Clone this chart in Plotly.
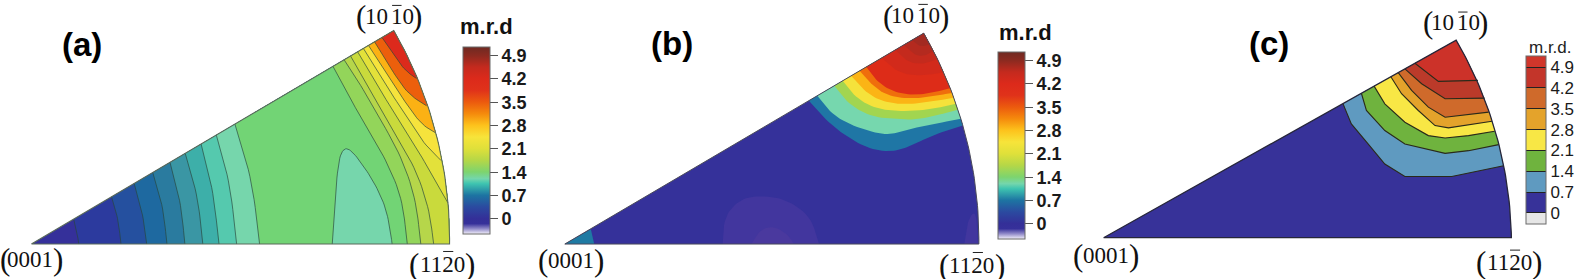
import math
import plotly.graph_objects as go

# ---------- shared labels ----------
TICK_VALUES = [0, 0.7, 1.4, 2.1, 2.8, 3.5, 4.2, 4.9]
TICK_TEXT = ["0", "0.7", "1.4", "2.1", "2.8", "3.5", "4.2", "4.9"]

# (0001), (1120), (1010) corners of each panel, in panel units
A_CORNERS = [(93, 722), (1330, 722), (1165, 90)]
B_CORNERS = [(103, 722), (1328, 722), (1165, 98)]
C_CORNERS = [(160, 710), (1378, 710), (1213, 120)]

# ---------- panel (a): contour lines, low to high ----------
A_BASE = "#35309a"
A_LEVELS = [
    ("#2c3a9e", [(218, 650), (228, 685), (233, 722)]),
    ("#25509f", [(330, 588), (350, 650), (358, 722)]),
    ("#1e69a0", [(397, 545), (422, 630), (434, 722)]),
    ("#2a7b9f", [(452, 513), (482, 610), (494, 722)]),
    ("#3a96a4", [(503, 483), (535, 600), (547, 722)]),
    ("#3dafa9", [(548, 457), (585, 580), (600, 722)]),
    ("#55c9ae", [(595, 430), (630, 560), (648, 722)]),
    ("#76d6ac", [(640, 405), (680, 540), (700, 722)]),
    ("#72d475", [(695, 370), (745, 530), (768, 722)]),
    ("#93d55a", [(985, 198), (1040, 300), (1100, 400), (1150, 490), (1190, 590), (1205, 722)]),
    ("#b6d64a", [(1018, 180), (1060, 240), (1130, 360), (1190, 470), (1230, 590), (1245, 722)]),
    ("#c9da3c", [(1037, 168), (1110, 290), (1170, 400), (1230, 500), (1270, 620), (1283, 722)]),
    ("#e3e13a", [(1058, 155), (1120, 260), (1190, 370), (1240, 450), (1290, 540), (1325, 600)]),
    ("#f6e33c", [(1075, 145), (1140, 250), (1200, 340), (1250, 420), (1305, 475)]),
    ("#fbb114", [(1090, 135), (1150, 225), (1210, 320), (1250, 370), (1287, 392)]),
    ("#ec5f0c", [(1108, 123), (1170, 225), (1210, 280), (1262, 313)]),
    ("#dc2a1c", [(1130, 110), (1170, 170), (1200, 210), (1232, 232)]),
]
A_LOBE_COLOR = "#76d6ac"
A_LOBE = [(983, 722), (990, 600), (1002, 470), (1018, 437), (1040, 445), (1075, 490),
          (1110, 545), (1140, 610), (1155, 680), (1160, 722)]

# ---------- panel (b) ----------
B_BASE = "#35319a"
B_LEVELS = [
    ("#1f76a5", [(825, 298), (870, 350), (930, 400), (1000, 440), (1075, 450), (1130, 430), (1190, 400), (1278, 372)]),
    ("#76d7ae", [(850, 285), (895, 340), (960, 375), (1050, 400), (1100, 390), (1150, 375), (1272, 352)]),
    ("#a2d550", [(900, 255), (945, 310), (1010, 345), (1080, 352), (1150, 355), (1265, 325)]),
    ("#f5e23b", [(925, 240), (965, 290), (1020, 320), (1090, 330), (1180, 325), (1258, 308)]),
    ("#fbb415", [(950, 225), (990, 270), (1040, 300), (1110, 310), (1180, 302), (1252, 290)]),
    ("#ef6e0c", [(975, 210), (1010, 250), (1060, 285), (1130, 292), (1190, 285), (1248, 275)]),
    ("#dd2c18", [(995, 197), (1025, 240), (1070, 270), (1130, 282), (1190, 275), (1245, 260)]),
    ("#d22a1b", [(1040, 170), (1090, 215), (1150, 225), (1222, 215)]),
    ("#c42a1d", [(1080, 145), (1120, 185), (1165, 190), (1205, 175)]),
    ("#b42a1f", [(1105, 130), (1140, 165), (1170, 165), (1195, 150)]),
    ("#a32a21", [(1130, 113), (1155, 140), (1185, 130)]),
]
B_TIP_COLOR = "#1f7aa3"
B_TIP = [(103, 722), (180, 678), (190, 722)]
B_BLOTCHES = [
    ("#42369e", [(570, 722), (575, 640), (620, 590), (680, 578), (760, 590), (830, 640), (855, 722)]),
    ("#4a399e", [(655, 722), (680, 680), (720, 668), (765, 695), (780, 722)]),
    ("#42369e", [(1285, 722), (1295, 650), (1320, 620), (1325, 722)]),
]

# ---------- panel (c) ----------
C_BASE = "#373299"
C_LEVELS = [
    ("#5f9ac0", [(875, 320), (900, 370), (950, 430), (1000, 490), (1060, 527), (1200, 527), (1355, 495)]),
    ("#6fb33e", [(930, 288), (945, 330), (1000, 390), (1060, 430), (1180, 458), (1250, 450), (1340, 432)]),
    ("#f8e745", [(968, 262), (1000, 310), (1060, 365), (1130, 405), (1180, 412), (1250, 405), (1328, 392)]),
    ("#e4a32b", [(1018, 230), (1050, 280), (1100, 330), (1150, 375), (1190, 382), (1320, 362)]),
    ("#cf6a2b", [(1040, 218), (1080, 270), (1130, 320), (1180, 350), (1310, 335)]),
    ("#bb3a2a", [(1060, 208), (1110, 250), (1180, 295), (1298, 293)]),
    ("#cc3229", [(1090, 190), (1160, 243), (1278, 240)]),
]

# ---------- colour bars ----------
SMOOTH_STOPS = [
    (-0.46, "#f4f2fb"), (-0.3, "#8f88c8"), (-0.15, "#36309a"), (0, "#342f98"), (0.35, "#2b4aa0"),
    (0.7, "#1d74a2"), (1.05, "#3ec4b0"), (1.2, "#74d6ac"), (1.4, "#7dd46e"), (1.75, "#b5d747"),
    (2.1, "#dfe03a"), (2.45, "#f7e43a"), (2.8, "#fdc21c"), (3.15, "#f58a0c"), (3.5, "#ec5a0e"),
    (3.85, "#e0321a"), (4.2, "#dc2a1b"), (4.55, "#c42a1e"), (4.9, "#8b2a20"), (5.15, "#6f2a22"),
]
STEP_EDGES = [-0.37, 0, 0.7, 1.4, 2.1, 2.8, 3.5, 4.2, 4.9, 5.27]
STEP_COLORS = ["#e6e6e6", "#373299", "#5f9ac0", "#6fb33e", "#f8e745", "#e4a32b", "#cf6a2b", "#c3352a", "#d0362b"]


def smooth(pts, rounds=3):
    """Corner cutting so that contour lines render as curves."""
    for _ in range(rounds):
        out = [pts[0]]
        for p, q in zip(pts, pts[1:]):
            out.append((0.75 * p[0] + 0.25 * q[0], 0.75 * p[1] + 0.25 * q[1]))
            out.append((0.25 * p[0] + 0.75 * q[0], 0.25 * p[1] + 0.75 * q[1]))
        out.append(pts[-1])
        pts = out
    return pts


def snap_top(corners, line):
    """Put a contour's first point exactly on the (0001)-(1010) edge."""
    o, _, a = corners
    x = line[0][0]
    y = o[1] + (a[1] - o[1]) * (x - o[0]) / (a[0] - o[0])
    return [(x, y)] + line[1:]


def arc(corners, t0=None):
    """Outer arc of the triangle from angle t0 up to the (1010) corner."""
    o, b, a = corners
    ta = math.atan2(o[1] - a[1], a[0] - o[0])
    rb = b[0] - o[0]
    ra = math.hypot(a[0] - o[0], o[1] - a[1])
    t0 = 0 if t0 is None else t0
    out = []
    for i in range(41):
        t = t0 + (ta - t0) * i / 40
        r = rb + (ra - rb) * t / ta
        out.append((o[0] + r * math.cos(t), o[1] - r * math.sin(t)))
    return out


def region(corners, line):
    o = corners[0]
    end = line[-1]
    return line + arc(corners, max(0, math.atan2(o[1] - end[1], end[0] - o[0])))


fig = go.Figure()


def poly(axis, pts, color):
    fig.add_trace(go.Scatter(x=[p[0] for p in pts], y=[p[1] for p in pts], mode="lines",
                             fill="toself", fillcolor=color, line=dict(width=0, color=color),
                             xaxis="x" + axis, yaxis="y" + axis, hoverinfo="skip", showlegend=False))


def stroke(axis, pts, color, width):
    fig.add_trace(go.Scatter(x=[p[0] for p in pts], y=[p[1] for p in pts], mode="lines",
                             line=dict(width=width, color=color),
                             xaxis="x" + axis, yaxis="y" + axis, hoverinfo="skip", showlegend=False))


def outline(corners):
    return [corners[0]] + arc(corners) + [corners[0]]


# panel a
poly("", outline(A_CORNERS), A_BASE)
for col, line in A_LEVELS:
    poly("", region(A_CORNERS, smooth(snap_top(A_CORNERS, line))), col)
poly("", smooth(A_LOBE), A_LOBE_COLOR)
for col, line in A_LEVELS:
    stroke("", smooth(snap_top(A_CORNERS, line)), "rgba(40,70,60,0.75)", 0.9)
stroke("", smooth(A_LOBE), "rgba(40,70,60,0.75)", 0.9)
stroke("", outline(A_CORNERS), "#5a6a5a", 1.1)

# panel b
poly("2", outline(B_CORNERS), B_BASE)
poly("2", B_TIP, B_TIP_COLOR)
for col, pts in B_BLOTCHES:
    poly("2", smooth(pts), col)
for col, line in B_LEVELS:
    poly("2", region(B_CORNERS, smooth(snap_top(B_CORNERS, line))), col)
stroke("2", outline(B_CORNERS), "#4a4a5a", 1.0)

# panel c
poly("3", outline(C_CORNERS), C_BASE)
for col, line in C_LEVELS:
    poly("3", region(C_CORNERS, snap_top(C_CORNERS, line)), col)
for col, line in C_LEVELS:
    stroke("3", snap_top(C_CORNERS, line), "#2a2a1a", 1.1)
stroke("3", outline(C_CORNERS), "#26263a", 1.3)


def colorbar_trace(scale, cmin, cmax, x, top, length, width, bold, ticks, ticklen, tickcolor, tickfs):
    fig.add_trace(go.Scatter(
        x=[-50], y=[-50], mode="markers", hoverinfo="skip", showlegend=False,
        marker=dict(color=[0], cmin=cmin, cmax=cmax, colorscale=scale, showscale=True, size=1,
                    colorbar=dict(x=x / 1575, xanchor="left", xpad=0, y=1 - top / 279, yanchor="top", ypad=0,
                                  lenmode="pixels", len=length, thicknessmode="pixels", thickness=width,
                                  outlinecolor="#6a6a6a", outlinewidth=1,
                                  tickmode="array", tickvals=TICK_VALUES, ticktext=TICK_TEXT,
                                  ticks=ticks, ticklen=ticklen, tickcolor=tickcolor, tickwidth=1,
                                  tickfont=dict(family="Liberation Sans", size=tickfs, color="#1a1a1a",
                                                weight=700 if bold else 400)))))


def smooth_scale():
    lo, hi = SMOOTH_STOPS[0][0], SMOOTH_STOPS[-1][0]
    return [[(v - lo) / (hi - lo), c] for v, c in SMOOTH_STOPS], lo, hi


sc, lo, hi = smooth_scale()
colorbar_trace(sc, lo, hi, 463.3, 47.3, 187, 26.7, True, "outside", 8, "#555", 18)
colorbar_trace(sc, lo, hi, 997.7, 52.3, 187, 26.6, True, "outside", 8, "#555", 18)
step = []
for i, c in enumerate(STEP_COLORS):
    a = (STEP_EDGES[i] - STEP_EDGES[0]) / (STEP_EDGES[-1] - STEP_EDGES[0])
    b = (STEP_EDGES[i + 1] - STEP_EDGES[0]) / (STEP_EDGES[-1] - STEP_EDGES[0])
    step += [[a, c], [b, c]]
colorbar_trace(step, STEP_EDGES[0], STEP_EDGES[-1], 1526, 56, 167.6, 19.7, False, "inside", 19.7, "#222", 17)

annotations, shapes = [], []


def text(axis, x, y, s, size, family, bold=False, color="#111"):
    annotations.append(dict(xref="x" + axis, yref="y" + axis, x=x, y=y, text=f"<b>{s}</b>" if bold else s,
                            showarrow=False, xanchor="center", yanchor="middle",
                            font=dict(size=size, family=family, color=color)))


SERIF = "Liberation Serif"
SANS = "Liberation Sans"
P, D = 31, 23


def hkil(axis, cx, cy, kind, pcy=None, offset=83):
    """Miller index label: thin tall brackets, digits, optional overbar."""
    pcy = cy if pcy is None else pcy
    text(axis, max(cx - offset, 16), pcy, "(", P, SERIF)
    text(axis, cx + offset, pcy, ")", P, SERIF)
    if kind == "0001":
        text(axis, cx, cy, "0001", D, SERIF)
    elif kind == "1010":
        text(axis, cx - 39, cy, "10", D, SERIF)
        text(axis, cx + 39, cy, "10", D, SERIF)
        shapes.append(dict(type="line", xref="x" + axis, yref="y" + axis, x0=cx + 8, x1=cx + 36,
                           y0=cy - 32, y1=cy - 32, line=dict(color="#222", width=1)))
    else:
        text(axis, cx, cy, "1120", D, SERIF)
        shapes.append(dict(type="line", xref="x" + axis, yref="y" + axis, x0=cx + 3, x1=cx + 33,
                           y0=cy - 38, y1=cy - 38, line=dict(color="#222", width=1)))


hkil("", 1152, 48, "1010", 49)
hkil("", 90, 768, "0001")
hkil("", 1308, 782, "1120")
hkil("2", 1141, 45, "1010", 49)
hkil("2", 120, 770, "0001")
hkil("2", 1307, 785, "1120")
hkil("3", 1211, 68, "1010")
hkil("3", 167, 763, "0001")
hkil("3", 1371, 785, "1120")

text("", 244, 132, "(a)", 33, SANS, True, "#000")
text("2", 420, 128, "(b)", 33, SANS, True, "#000")
text("3", 655, 130, "(c)", 33, SANS, True, "#000")
text("", 1440, 77, "m.r.d", 22, SANS, True, "#111")
text("2", 1465, 95, "m.r.d", 22, SANS, True, "#111")
text("3", 1495, 143, "m.r.d.", 17, SANS, False, "#222")

W, H = 1575, 279
# each panel: pixel span on the page and panel units per pixel
PANEL_X = {"xaxis": (0, 530, 1568 / 530), "xaxis2": (530, 1060, 1568 / 530), "xaxis3": (1050, 1575, 1568 / 525)}
layout = dict(width=W, height=H, margin=dict(l=0, r=0, t=0, b=0, autoexpand=False), autosize=False,
              paper_bgcolor="white", plot_bgcolor="rgba(0,0,0,0)",
              annotations=annotations, shapes=shapes, showlegend=False)
for i, (name, (x0, x1, k)) in enumerate(PANEL_X.items()):
    layout[name] = dict(domain=[x0 / W, x1 / W], range=[0, (x1 - x0) * k], visible=False, fixedrange=True,
                        anchor="y" + ("" if i == 0 else str(i + 1)))
    layout["yaxis" + ("" if i == 0 else str(i + 1))] = dict(domain=[0, 1], range=[H * k, 0], visible=False,
                                                            fixedrange=True,
                                                            anchor="x" + ("" if i == 0 else str(i + 1)))
fig.update_layout(**layout)
fig.write_html("out.html", config=dict(displayModeBar=False),
               post_script="document.body.style.margin='0';document.documentElement.style.overflow='hidden';")
